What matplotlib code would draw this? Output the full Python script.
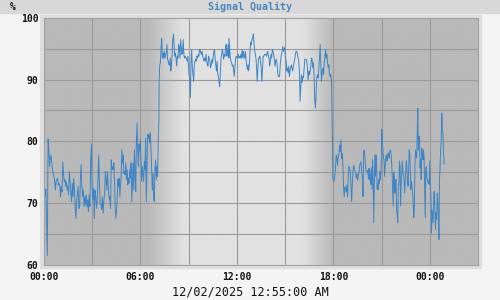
import matplotlib
matplotlib.use("Agg")
import matplotlib.pyplot as plt
from matplotlib.patches import Rectangle
import numpy as np

# --- DADOS ---
# qualidade do sinal (%) por troço do dia; cada troço tem o seu intervalo em horas
night_early = [71.1, 72.2, 67.2, 61.5, 80.4, 78.9, 75.9, 77.3, 77.8, 76.7,
               75.4, 74.8, 74.3, 73.5, 72.1, 73.5, 73.8, 74.0, 72.9, 73.2,
               72.7, 71.0, 72.7, 71.8, 76.7, 74.8, 73.5, 73.8, 72.7, 73.5,
               72.1, 72.7, 71.3, 75.1, 73.5, 71.6, 70.2, 73.2, 71.0, 74.0,
               72.1, 68.9, 67.5, 70.5, 71.6, 72.7, 69.1, 69.4, 73.8, 76.2,
               72.7, 71.0, 72.1, 69.4, 71.0, 69.7, 71.3, 69.4, 70.5, 68.6,
               71.3, 69.4, 76.7, 79.6, 72.7, 70.5, 72.4, 67.5, 72.1, 71.0,
               69.1, 70.5, 74.0, 77.8, 72.7, 69.9, 69.7, 68.9, 71.0, 68.3,
               70.5, 71.3, 75.1, 74.0, 72.1, 75.1, 72.7, 71.0, 70.5]
night_late = [71.0, 69.1, 77.0, 75.4, 75.9, 75.4, 76.5, 73.2, 69.1, 67.5,
              68.9, 70.5, 73.8, 72.7, 74.0, 71.0, 72.9, 74.3, 78.6, 76.5,
              77.8, 74.8, 75.1, 74.6, 76.5, 73.8, 75.4, 72.9, 74.0, 73.2,
              75.4, 74.0, 76.5, 70.2, 73.5, 76.5, 72.1, 78.6, 74.8, 71.8,
              80.0, 83.0, 78.4, 75.9, 79.5, 78.4, 80.3, 76.5, 73.5, 75.9,
              74.6, 73.5, 76.7, 75.4, 80.5, 70.2, 75.9, 81.1, 80.5, 81.1,
              79.7, 81.4, 78.6, 75.7, 72.1, 74.8, 70.8, 70.2, 75.4, 77.0,
              73.8, 75.9, 74.3, 80.3, 83.5]
morning = [89.7, 92.4, 92.7, 95.2, 96.7, 93.5, 94.3, 93.5, 94.6, 93.5,
           94.1, 94.3, 95.7, 93.3, 93.0, 92.4, 92.4, 93.5, 91.4, 92.4,
           94.1, 96.5, 97.4, 95.7, 93.8, 94.3, 93.5, 92.2, 93.8, 93.5,
           95.7, 95.2, 93.5, 96.5, 95.2, 94.1, 94.6, 96.5, 94.1, 93.5,
           93.8, 93.5, 93.5, 93.0, 93.8, 92.4, 90.8, 90.3, 87.1, 93.0,
           94.9, 91.9, 90.8, 89.7, 92.4, 93.0, 93.3, 93.0, 93.8, 93.5,
           94.1, 93.8, 94.9, 94.9, 94.3, 94.1, 94.6, 93.8, 93.3, 93.0,
           93.5, 93.0, 94.1, 93.3, 92.4, 92.2, 93.8, 93.3, 93.0, 91.9,
           92.4, 93.3, 92.7, 93.8, 94.6, 94.9, 93.3, 92.4, 91.4, 93.0,
           90.8, 90.5, 89.5, 88.9, 91.4, 93.5, 94.1, 94.9, 94.3, 93.3,
           94.1, 93.8, 95.4, 95.7, 93.8, 94.6, 95.7, 93.5]
afternoon = [96.7, 95.2, 93.5, 93.0, 92.7, 92.2, 92.4, 91.4, 90.5, 91.9,
             93.5, 93.8, 93.5, 93.8, 94.1, 93.5, 93.8, 93.5, 94.1, 93.5,
             94.9, 93.5, 94.6, 93.8, 93.5, 94.6, 93.0, 92.4, 91.6, 92.4,
             91.4, 92.7, 94.6, 96.0, 95.7, 96.5, 96.8, 97.4, 96.0, 94.9,
             94.1, 93.5, 91.9, 89.7, 91.9, 93.5, 93.5, 93.8, 93.0, 91.9,
             89.7, 91.9, 93.8, 93.8, 94.1, 94.1, 94.1, 93.8, 94.3, 94.6,
             93.8, 93.5, 92.2, 93.0, 94.1, 93.5, 94.9, 94.6, 94.1, 93.5,
             92.2, 93.0, 93.3, 92.7, 91.4, 90.5, 90.5, 90.5, 92.4, 93.5,
             94.1, 94.6, 95.4, 94.6, 94.9, 95.2, 93.5, 93.0, 91.4, 91.9,
             91.1, 92.2, 90.5, 91.4, 91.9, 92.4, 91.9, 91.4, 92.2, 92.7,
             93.3, 94.1, 94.6, 94.6, 94.3, 93.5, 93.3]
evening = [91.4, 86.5, 88.6, 90.8, 89.5, 90.5, 90.3, 91.9, 93.3, 93.3,
           93.3, 93.0, 91.9, 90.0, 91.4, 90.8, 91.4, 92.2, 93.5, 93.3,
           91.9, 92.7, 90.3, 86.5, 85.4, 88.1, 90.3, 90.8, 90.3, 91.9,
           93.5, 95.7, 92.4, 89.7, 91.4, 91.9, 90.8, 92.7, 93.5, 94.9,
           93.5, 94.1, 92.7, 91.9, 92.4, 90.8, 90.5, 90.8, 89.7, 82.7,
           74.0, 73.4, 73.7, 74.5, 75.9, 77.8, 77.2, 76.1, 77.5, 77.8,
           79.4, 78.3, 80.2, 77.2, 78.0, 76.1, 72.3, 71.0, 72.6, 72.3,
           71.8, 72.9, 71.0, 74.0, 75.9, 75.6, 75.1, 72.9, 70.2, 72.9,
           75.1, 76.1, 75.6, 75.1, 74.8, 74.0, 74.8, 73.7, 74.5, 74.8,
           76.1, 76.4, 76.7, 75.1, 74.2, 71.0, 78.3, 78.6, 77.2, 75.6,
           75.1, 75.3, 75.1, 74.0, 75.6]
late = [73.8, 75.4, 73.8, 73.0, 75.7, 72.2, 77.0, 73.8, 66.8, 73.2,
        77.8, 74.3, 77.8, 75.9, 72.2, 73.2, 72.2, 73.8, 73.2, 75.1,
        73.8, 75.9, 82.0, 80.0, 78.6, 77.3, 77.0, 74.3, 75.9, 77.3,
        77.8, 76.8, 77.3, 78.1, 77.8, 77.3, 78.4, 78.6, 78.1, 77.0,
        75.1, 72.2, 69.5, 74.9, 74.1, 71.6, 73.2, 73.8, 68.6, 68.4,
        66.8, 73.0, 73.0, 76.8, 75.9, 69.5, 73.2, 75.1, 76.8, 74.9,
        74.6, 73.8, 71.6, 73.5, 75.4, 76.9, 75.7, 73.8, 72.7, 75.1,
        78.6, 78.1, 75.1, 72.2, 73.5, 72.4, 71.6, 70.0, 67.6, 68.9,
        75.9, 78.6, 77.8, 77.3, 80.8, 85.4, 78.6, 80.8, 80.8, 75.7,
        77.0, 73.8, 78.9, 77.8, 77.0, 78.6, 77.6, 72.4, 67.6, 75.4,
        75.9, 73.8, 73.8, 73.2, 73.5, 73.0, 76.8, 72.7, 71.1, 65.1,
        68.9, 67.8, 66.8, 71.6, 71.9, 68.9, 65.7, 68.4, 67.3, 71.6,
        70.5, 67.8, 64.1, 73.8, 75.9, 78.9, 79.7, 84.6, 81.6, 81.4,
        78.1, 76.3]

segments = [night_early, night_late, morning, afternoon, evening, late]
seg_hours = [(0.07, 4.09), (4.10, 7.15), (7.16, 11.50),
             (11.51, 15.84), (15.89, 20.22), (20.23, 24.89)]

tick_hours = [0, 6, 12, 18, 24]
tick_labels = ["00:00", "06:00", "12:00", "18:00", "00:00"]
y_ticks = [60, 70, 80, 90, 100]

# nascer / pôr do sol (horas) para o fundo
DAWN = (6.5, 8.7)
DUSK = (16.1, 18.0)

MONO = "DejaVu Sans Mono"
NIGHT_GRAY = 0.725
DAY_GRAY = 0.88


def background_profile(hours):
    """Brilho do fundo: escuro de noite, claro de dia, com transições suaves."""
    up = np.clip((hours - DAWN[0]) / (DAWN[1] - DAWN[0]), 0, 1)
    down = np.clip((DUSK[1] - hours) / (DUSK[1] - DUSK[0]), 0, 1)
    light = np.minimum(up, down)
    return NIGHT_GRAY + (DAY_GRAY - NIGHT_GRAY) * light


# junta os troços numa única série contínua
times = np.concatenate([np.linspace(h0, h1, len(vals))
                        for vals, (h0, h1) in zip(segments, seg_hours)])
quality = np.concatenate([np.asarray(vals) for vals in segments])

fig = plt.figure(figsize=(5, 3), dpi=100, facecolor="#f4f4f4")

# faixa do título e painel cinzento à volta do gráfico
fig.patches.append(Rectangle((0, 0.957), 1, 0.043, transform=fig.transFigure,
                             color="#d8d8d8", zorder=-2))
fig.patches.append(Rectangle((0.080, 0.107), 0.882, 0.843, transform=fig.transFigure,
                             color="#dedede", zorder=-2))

ax = fig.add_axes([0.088, 0.118, 0.868, 0.822])
ax.set_zorder(1)
ax.set_xlim(0, 27)
ax.set_ylim(60, 100)

hh = np.linspace(0, 27, 2000)
ax.imshow(background_profile(hh)[None, :], cmap="gray", vmin=0, vmax=1,
          extent=[0, 27, 60, 100], aspect="auto", interpolation="bilinear", zorder=0)

# grelha: linhas a cada 3 h e a cada 5 %
for h in range(3, 27, 3):
    ax.axvline(h, color="#999999", lw=0.8, zorder=1)
for v in range(65, 100, 5):
    ax.axhline(v, color="#999999", lw=0.8, zorder=1)

ax.plot(times, quality, color="#3d85c6", lw=0.7, zorder=2)

ax.set_xticks(tick_hours)
ax.set_xticklabels(tick_labels)
ax.set_yticks(y_ticks)
ax.tick_params(length=0, labelsize=7, colors="#111111")
ax.tick_params(axis="x", pad=5)
ax.tick_params(axis="y", pad=4)
for lab in ax.get_xticklabels() + ax.get_yticklabels():
    lab.set_fontfamily(MONO)
    lab.set_fontweight("bold")
for sp in ax.spines.values():
    sp.set_color("#a0a0a0")
    sp.set_linewidth(0.8)

fig.text(0.5, 0.978, "Signal Quality", ha="center", va="center", fontsize=7.2,
         fontweight="bold", family=MONO, color="#4a86be")
fig.text(0.02, 0.978, "%", ha="left", va="center", fontsize=7,
         fontweight="bold", family=MONO, color="#222222")
fig.text(0.5, 0.027, "12/02/2025 12:55:00 AM", ha="center", va="center",
         fontsize=8.5, family=MONO, color="#111111")

fig.savefig("out.png", dpi=100, facecolor=fig.get_facecolor())
